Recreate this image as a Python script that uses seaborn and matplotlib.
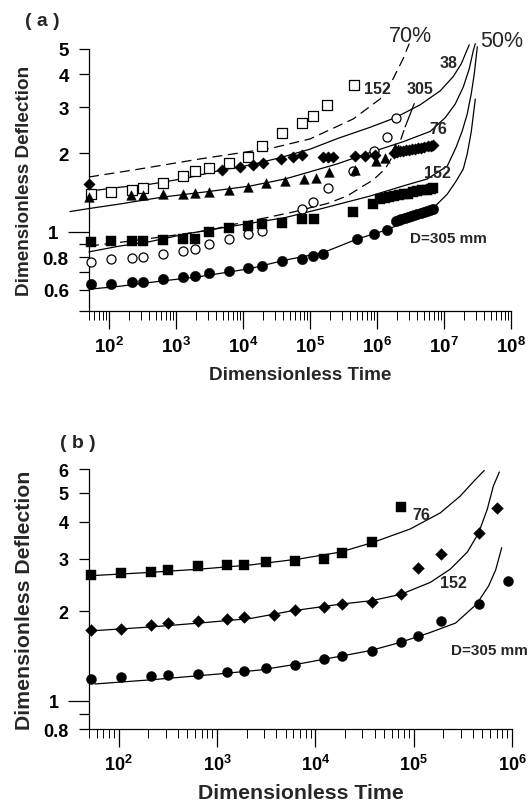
import numpy as np
import matplotlib
matplotlib.use("Agg")
import matplotlib.pyplot as plt
import seaborn as sns
from matplotlib.ticker import FixedLocator, FixedFormatter, FuncFormatter, LogLocator, NullFormatter

# ---------------- panel (a) data ----------------
a_osq_t = [53, 106, 216, 320, 640, 1250, 1900, 3100, 6200, 12000, 19000, 38000, 75000, 112000, 178000, 459000]
a_osq_y = [1.39, 1.42, 1.44, 1.47, 1.54, 1.63, 1.71, 1.76, 1.84, 1.93, 2.13, 2.38, 2.60, 2.76, 3.06, 3.63]

a_dia_t = [50, 4800, 9100, 14200, 19500, 36800, 56300, 75000, 158000, 188000, 223000, 471000, 664000, 937000,
           1.8e6, 2.0e6, 2.2e6, 2.4e6, 2.7e6, 3.0e6, 3.3e6, 3.7e6, 4.1e6, 4.6e6, 5.1e6, 5.7e6, 6.3e6, 6.9e6]
a_dia_y = [1.52, 1.73, 1.77, 1.80, 1.83, 1.90, 1.94, 1.96, 1.94, 1.94, 1.94, 1.95, 1.95, 1.96,
           2.00, 2.01, 2.03, 2.04, 2.05, 2.06, 2.07, 2.08, 2.09, 2.10, 2.11, 2.12, 2.13, 2.15]

a_tri_t = [50, 211, 315, 635, 1250, 1900, 3100, 6200, 12000, 22000, 42300, 81400, 123000, 192000, 471000,
           970000, 1.32e6, 1.87e6]
a_tri_y = [1.36, 1.38, 1.38, 1.39, 1.40, 1.41, 1.42, 1.45, 1.48, 1.53, 1.57, 1.59, 1.60, 1.69, 1.73,
           1.87, 1.92, 2.10]

a_fsq_t = [53, 106, 216, 320, 640, 1250, 1900, 3100, 6200, 12000, 19000, 37700, 75000, 115000, 444000, 883000,
           1.1e6, 1.3e6, 1.5e6, 1.8e6, 2.1e6, 2.5e6, 2.9e6, 3.4e6, 4.0e6, 4.7e6, 5.5e6, 6.3e6, 6.9e6]
a_fsq_y = [0.913, 0.919, 0.924, 0.924, 0.934, 0.942, 0.942, 1.00, 1.033, 1.056, 1.075, 1.085, 1.12, 1.12, 1.195, 1.277,
           1.34, 1.35, 1.36, 1.37, 1.38, 1.39, 1.40, 1.42, 1.43, 1.44, 1.45, 1.46, 1.47]

a_ocirc_t = [53, 106, 216, 320, 640, 1250, 1900, 3100, 6200, 12000, 19000, 75000, 112000, 187000, 444000,
             904000, 1.4e6, 1.91e6]
a_ocirc_y = [0.767, 0.786, 0.793, 0.803, 0.825, 0.846, 0.858, 0.897, 0.942, 0.980, 1.009, 1.222, 1.303, 1.466, 1.71,
             2.03, 2.31, 2.72]

a_fcirc_t = [53, 106, 216, 320, 640, 1250, 1900, 3100, 6200, 12000, 19000, 37700, 75000, 112000, 158000, 509000,
             914000, 1.4e6, 1.9e6, 2.1e6, 2.3e6, 2.6e6, 2.9e6, 3.2e6, 3.6e6, 4.0e6, 4.5e6, 5.0e6, 5.6e6, 6.2e6, 6.9e6]
a_fcirc_y = [0.633, 0.634, 0.640, 0.644, 0.659, 0.670, 0.676, 0.693, 0.709, 0.726, 0.743, 0.774, 0.786, 0.809, 0.821,
             0.938, 0.980, 1.018, 1.10, 1.11, 1.12, 1.13, 1.14, 1.15, 1.16, 1.17, 1.18, 1.19, 1.20, 1.21, 1.22]

# theoretical curves, panel (a): 50% (solid) and 70% (dashed)
a_c38_t = [50, 144, 406, 1355, 4680, 12700, 35600, 1e5, 2.53e5, 7.89e5, 1.87e6, 4.41e6, 8.78e6, 1.37e7, 1.81e7, 2.15e7, 2.38e7]
a_c38_y = [1.43, 1.48, 1.52, 1.60, 1.72, 1.80, 1.92, 2.07, 2.27, 2.51, 2.73, 3.06, 3.46, 3.92, 4.39, 4.88, 5.19]
a_c76_t = [26, 50, 144, 635, 3090, 12700, 42300, 2.53e5, 7.89e5, 2.45e6, 6.22e6, 1.04e7, 1.47e7, 1.94e7, 2.38e7, 2.73e7, 2.93e7]
a_c76_y = [1.195, 1.227, 1.277, 1.358, 1.426, 1.496, 1.592, 1.817, 2.01, 2.21, 2.42, 2.73, 3.08, 3.58, 4.20, 4.92, 5.24]
a_c152_t = [50, 144, 406, 1355, 6370, 42300, 1.41e5, 7.89e5, 2.45e6, 5.61e6, 1.12e7, 1.52e7, 1.87e7, 2.22e7, 2.55e7, 2.83e7, 3.14e7]
a_c152_y = [0.838, 0.882, 0.917, 0.980, 1.047, 1.133, 1.222, 1.370, 1.497, 1.592, 1.785, 2.11, 2.43, 2.82, 3.37, 4.02, 5.10]
a_c305_t = [50, 144, 573, 2270, 12700, 42300, 1.56e5, 5.04e5, 1.45e6, 3.98e6, 6.9e6, 1.12e7, 1.52e7, 1.94e7, 2.22e7, 2.55e7, 2.93e7]
a_c305_y = [0.603, 0.619, 0.647, 0.674, 0.723, 0.779, 0.832, 0.938, 1.020, 1.148, 1.232, 1.394, 1.564, 1.739, 1.985, 2.41, 3.22]
a_d152_t = [50, 288, 2270, 27000, 1e5, 4.4e5, 1.11e6, 1.74e6, 2.45e6, 3.02e6]
a_d152_y = [1.62, 1.739, 1.899, 2.09, 2.265, 2.70, 3.22, 3.85, 4.59, 5.24]
a_d305_t = [50, 204, 960, 3200, 7570, 17900, 55700, 1.8e5, 3.57e5, 6.2e5, 8.75e5, 1.32e6, 2.07e6, 2.63e6]
a_d305_y = [0.882, 0.921, 0.971, 1.015, 1.070, 1.119, 1.190, 1.282, 1.370, 1.497, 1.578, 1.739, 2.11, 2.52]

# ---------------- panel (b) data ----------------
b_sq_t = [53, 106, 214, 321, 640, 1260, 1900, 3140, 6250, 12400, 18700, 37700, 74800]
b_sq_y = [2.64, 2.68, 2.70, 2.75, 2.83, 2.87, 2.87, 2.93, 2.96, 2.99, 3.13, 3.41, 4.48]
b_dia_t = [53, 106, 214, 321, 640, 1260, 1900, 3790, 6250, 12400, 18700, 37700, 74800, 112000, 190000, 457000, 697000]
b_dia_y = [1.73, 1.745, 1.79, 1.82, 1.85, 1.88, 1.905, 1.945, 2.01, 2.07, 2.11, 2.15, 2.28, 2.79, 3.11, 3.66, 4.45]
b_circ_t = [53, 106, 214, 321, 640, 1260, 1900, 3140, 6250, 12400, 18700, 37700, 74800, 112000, 190000, 457000, 902000]
b_circ_y = [1.18, 1.197, 1.206, 1.22, 1.233, 1.247, 1.26, 1.286, 1.317, 1.38, 1.415, 1.468, 1.58, 1.655, 1.853, 2.11, 2.53]

b_c76_t = [50, 209, 674, 2180, 7020, 17900, 37900, 92200, 1.86e5, 2.98e5, 4.04e5, 5.22e5]
b_c76_y = [2.63, 2.70, 2.77, 2.86, 3.00, 3.16, 3.40, 3.78, 4.28, 4.88, 5.45, 5.95]
b_c152_t = [50, 209, 674, 2180, 5570, 17900, 37900, 74800, 1.48e5, 2.36e5, 3.51e5, 4.55e5, 5.61e5, 6.46e5, 7.43e5]
b_c152_y = [1.714, 1.768, 1.824, 1.888, 2.00, 2.11, 2.17, 2.28, 2.50, 2.77, 3.16, 3.65, 4.41, 5.27, 5.88]
b_c305_t = [57.6, 219, 1030, 2750, 7590, 17200, 36400, 71900, 1.42e5, 2.67e5, 4.36e5, 5.78e5, 6.82e5, 7.86e5]
b_c305_y = [1.137, 1.175, 1.228, 1.267, 1.337, 1.406, 1.473, 1.567, 1.687, 1.823, 2.11, 2.43, 2.75, 3.27]

a_xticks = [1e2, 1e3, 1e4, 1e5, 1e6, 1e7, 1e8]
b_xticks = [1e2, 1e3, 1e4, 1e5, 1e6]
a_yticks = [0.5, 0.6, 0.8, 1, 2, 3, 4, 5]
a_ylabels = ["", "0.6", "0.8", "1", "2", "3", "4", "5"]
b_yticks = [0.8, 1, 2, 3, 4, 5, 6]
b_ylabels = ["0.8", "1", "2", "3", "4", "5", "6"]

# ---------------- style ----------------
sns.set_theme(style="ticks")
plt.rcParams.update({
    "font.family": ["Liberation Sans", "DejaVu Sans"],
    "font.weight": "bold",
    "mathtext.fontset": "custom",
    "mathtext.rm": "Liberation Sans:bold",
    "mathtext.it": "Liberation Sans:bold:italic",
    "mathtext.bf": "Liberation Sans:bold",
    "mathtext.default": "rm",
    "axes.linewidth": 0.9,
    "axes.edgecolor": "black",
    "xtick.color": "black",
    "ytick.color": "black",
})

W, H = 528, 804
fig = plt.figure(figsize=(W / 100, H / 100), dpi=100)


def fx(px):
    return px / W


def fy(py):
    return 1 - py / H


ax1 = fig.add_axes([fx(89), fy(311.5), fx(511) - fx(89), fy(50) - fy(311.5)])
ax2 = fig.add_axes([fx(89), fy(730.3), fx(512) - fx(89), fy(470.4) - fy(730.3)])

for ax in (ax1, ax2):
    ax.set_xscale("log")
    ax.set_yscale("log")
    ax.set_facecolor("white")

ax1.set_xlim(50, 1e8)
ax1.set_ylim(0.5, 5)
ax2.set_xlim(50, 1e6)
ax2.set_ylim(0.8, 6)


def curve(ax, t, y, dashed=False):
    sns.lineplot(x=t, y=y, sort=False, estimator=None, color="black", lw=0.9, ax=ax,
                 clip_on=False, legend=False,
                 linestyle=(0, (8, 4.5)) if dashed else "-")


def points(ax, t, y, marker, size, filled=True):
    sns.scatterplot(x=t, y=y, marker=marker, s=size ** 2,
                    color="black" if filled else "white", edgecolor="black",
                    linewidth=0.3 if filled else 0.9, ax=ax, zorder=3,
                    clip_on=False, legend=False)


# panel (a)
curve(ax1, a_c38_t, a_c38_y)
curve(ax1, a_c76_t, a_c76_y)
curve(ax1, a_c152_t, a_c152_y)
curve(ax1, a_c305_t, a_c305_y)
curve(ax1, a_d152_t, a_d152_y, dashed=True)
curve(ax1, a_d305_t, a_d305_y, dashed=True)

points(ax1, a_osq_t, a_osq_y, "s", 6.5, filled=False)
points(ax1, a_ocirc_t, a_ocirc_y, "o", 6.5, filled=False)
points(ax1, a_tri_t, a_tri_y, "^", 7.0)
points(ax1, a_dia_t, a_dia_y, "D", 5.8)
points(ax1, a_fsq_t, a_fsq_y, "s", 6.8)
points(ax1, a_fcirc_t, a_fcirc_y, "o", 7.5)

# panel (b)
curve(ax2, b_c76_t, b_c76_y)
curve(ax2, b_c152_t, b_c152_y)
curve(ax2, b_c305_t, b_c305_y)
points(ax2, b_sq_t, b_sq_y, "s", 6.6)
points(ax2, b_dia_t, b_dia_y, "D", 6.0)
points(ax2, b_circ_t, b_circ_y, "o", 7.2)


def fmt_pow(v, pos):
    return r"$10^{%d}$" % int(round(np.log10(v)))


for ax, xt, yt, yl, fs_tick, fs_lab in ((ax1, a_xticks, a_yticks, a_ylabels, 13.5, 13.6),
                                         (ax2, b_xticks, b_yticks, b_ylabels, 13.0, 15.3)):
    sns.despine(ax=ax)
    ax.xaxis.set_major_locator(FixedLocator(xt))
    ax.xaxis.set_major_formatter(FuncFormatter(fmt_pow))
    ax.xaxis.set_minor_locator(LogLocator(base=10, subs=range(2, 10), numticks=100))
    ax.xaxis.set_minor_formatter(NullFormatter())
    ax.yaxis.set_major_locator(FixedLocator(yt))
    ax.yaxis.set_major_formatter(FixedFormatter(yl))
    ax.yaxis.set_minor_locator(FixedLocator([0.7, 0.9] if ax is ax1 else [0.9]))
    ax.yaxis.set_minor_formatter(NullFormatter())
    ax.tick_params(axis="x", which="major", direction="out", length=13, width=0.9, pad=5, labelsize=fs_tick)
    ax.tick_params(axis="x", which="minor", direction="out", length=6.5, width=0.7)
    ax.tick_params(axis="y", which="major", direction="out", length=7.5, width=0.9, pad=7, labelsize=fs_tick)
    ax.tick_params(axis="y", which="minor", direction="out", length=7.5, width=0.9)
    for lab in ax.get_xticklabels() + ax.get_yticklabels():
        lab.set_fontweight("bold")
    # the tick at 1 is drawn longer in the original
    locs = list(ax.yaxis.get_majorticklocs())
    ticks = ax.yaxis.get_major_ticks()
    i1 = locs.index(1)
    ticks[i1]._apply_params(size=15)

    ax.set_xlabel("Dimensionless Time", fontsize=fs_lab, fontweight="bold", va="center")
    ax.set_ylabel("Dimensionless Deflection", fontsize=fs_lab, fontweight="bold", va="center")

ax1.xaxis.set_label_coords(0.5, -0.244)
ax1.yaxis.set_label_coords(-0.153, 0.5)
ax2.xaxis.set_label_coords(0.5, -0.243)
ax2.yaxis.set_label_coords(-0.152, 0.5)

# panel letters
fig.text(fx(42), fy(21), "( a )", ha="center", va="center", fontsize=14, fontweight="bold")
fig.text(fx(77.5), fy(444), "( b )", ha="center", va="center", fontsize=14, fontweight="bold")

# annotations panel (a)
fig.text(fx(410.5), fy(37), "70%", ha="center", va="center", fontsize=15.5, fontweight="normal")
fig.text(fx(502), fy(41.5), "50%", ha="center", va="center", fontsize=15.5, fontweight="normal")
fig.text(fx(448.7), fy(64), "38", ha="center", va="center", fontsize=11.5, fontweight="bold")
fig.text(fx(377.5), fy(89), "152", ha="center", va="center", fontsize=11.5, fontweight="bold")
ax1.annotate("305", xy=(2.63e6, 2.52), xytext=(fx(420), fy(90)), textcoords="figure fraction",
             ha="center", va="center", fontsize=11.5, fontweight="bold",
             arrowprops=dict(arrowstyle="-", lw=0.9, color="black", shrinkA=3, shrinkB=0))
fig.text(fx(438.5), fy(130), "76", ha="center", va="center", fontsize=11.5, fontweight="bold")
fig.text(fx(437.5), fy(174), "152", ha="center", va="center", fontsize=11.5, fontweight="bold")
fig.text(fx(448.7), fy(239), "D=305 mm", ha="center", va="center", fontsize=11, fontweight="bold")

# annotations panel (b)
fig.text(fx(421.7), fy(516), "76", ha="center", va="center", fontsize=11.5, fontweight="bold")
fig.text(fx(453.3), fy(583.5), "152", ha="center", va="center", fontsize=11.5, fontweight="bold")
fig.text(fx(489.2), fy(651.5), "D=305 mm", ha="center", va="center", fontsize=11, fontweight="bold")

fig.savefig("out.png", dpi=100, facecolor="white")
